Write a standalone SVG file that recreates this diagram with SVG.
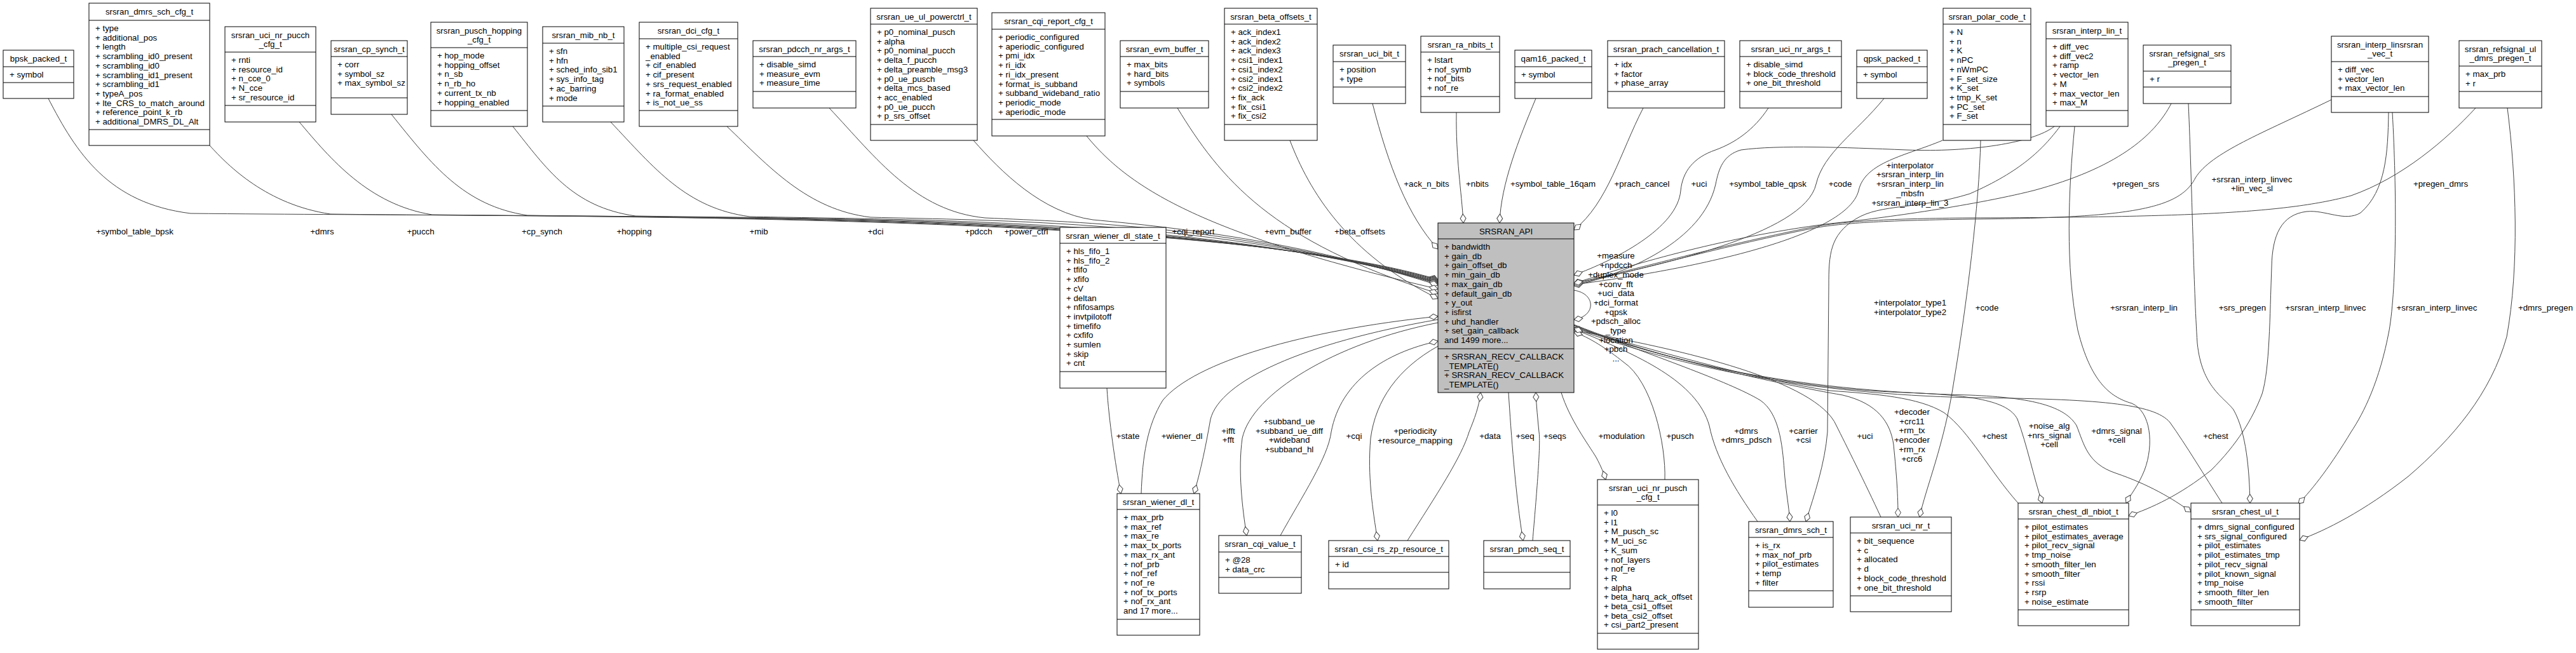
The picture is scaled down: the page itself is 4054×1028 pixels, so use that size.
<svg xmlns="http://www.w3.org/2000/svg" width="4054" height="1028" viewBox="0 0 4054 1028">
<style>
.b{fill:#fff;stroke:#000;stroke-width:1}
.api{fill:#bfbfbf}
.d{stroke:#000;stroke-width:1}
text{font-family:"Liberation Sans",Arial,Helvetica,sans-serif;font-size:13.3px;fill:#000}
.c{text-anchor:middle}
.e{fill:none;stroke:#404040;stroke-width:1;marker-end:url(#dia)}
</style>
<defs>
<marker id="dia" viewBox="-15 -6 16 12" refX="0" refY="0" markerWidth="16" markerHeight="12" markerUnits="userSpaceOnUse" orient="auto">
<path d="M0,0 L-7,-4.5 L-14,0 L-7,4.5 Z" fill="#fff" stroke="#404040" stroke-width="1"/>
</marker>
</defs>
<rect width="4054" height="1028" fill="#fff"/>
<g id="connectors">
<path class="e" d="M76,155 C120,240 170,320 300,336 C900,342 1900,332 2263,440"/>
<path class="e" d="M330,229 C360,262 420,322 520,337 C1000,343 1900,334 2263,441"/>
<path class="e" d="M471,192 C520,250 580,322 680,338 C1100,343 1900,336 2263,442"/>
<path class="e" d="M616,180 C680,260 730,324 830,339 C1200,344 1900,338 2263,443"/>
<path class="e" d="M807,199 C860,265 900,326 1000,340 C1300,345 1900,340 2263,444"/>
<path class="e" d="M961,192 C1030,265 1080,328 1180,341 C1400,346 1900,342 2263,445"/>
<path class="e" d="M1144,199 C1210,262 1270,330 1370,342 C1550,347 1920,346 2263,446"/>
<path class="e" d="M1305,170 C1380,250 1440,332 1550,343 C1700,350 1950,355 2263,447"/>
<path class="e" d="M1532,221 C1575,270 1640,335 1720,346 C1850,358 2050,380 2263,449"/>
<path class="e" d="M1710,214 C1780,300 1900,370 2263,455"/>
<path class="e" d="M1853,170 C1920,280 2000,380 2263,462"/>
<path class="e" d="M2030,221 C2060,300 2120,400 2263,470"/>
<path class="e" d="M2160,163 C2185,260 2215,340 2263,392"/>
<path class="e" d="M2292,177 C2291,250 2300,300 2303,351"/>
<path class="e" d="M2417,155 C2390,220 2362,290 2360,351"/>
<path class="e" d="M2586,170 C2550,240 2530,320 2477,362"/>
<path class="e" d="M2783,170 C2760,205 2730,225 2700,236 C2665,248 2648,270 2645,300 C2640,360 2540,410 2477,433"/>
<path class="e" d="M2965,155 C2920,210 2870,240 2858,290 C2840,370 2600,420 2477,446"/>
<path class="e" d="M3057,221 C3000,245 2935,255 2925,300 C2905,380 2620,430 2477,448"/>
<path class="e" d="M3233,199 C3200,225 3100,240 3000,236 C2900,232 2800,228 2740,236 C2712,244 2705,265 2700,290 C2680,380 2560,430 2477,450"/>
<path class="e" d="M3417,163 C3390,215 3330,265 3200,300 C3100,325 2950,345 2880,352 C2700,375 2560,420 2477,446"/>
<path class="e" d="M3669,157 C3560,210 3480,240 3455,280 C3430,330 3350,343 3100,345 C2980,347 2900,350 2850,360 C2700,390 2560,430 2477,448"/>
<path class="e" d="M3896,170 C3850,220 3780,280 3700,308 C3600,335 3450,342 3100,343 C2980,344 2900,348 2850,358 C2700,388 2560,428 2477,446"/>
<path class="e" d="M2477,457 C2512,462 2512,498 2477,503"/>
<path class="e" d="M2477,515 C2600,560 2800,605 2900,622 C2955,635 2975,665 2980,700 C2985,750 2987,780 2987,814"/>
<path class="e" d="M2477,512 C2600,560 2720,600 2770,630 C2800,650 2805,700 2808,740 C2810,770 2815,795 2817,821"/>
<path class="e" d="M2766,821 C2730,770 2700,720 2690,670 C2670,600 2580,560 2477,518"/>
<path class="e" d="M2960,814 C2935,760 2905,700 2890,670 C2860,600 2650,550 2477,520"/>
<path class="e" d="M2620,755 C2622,700 2600,600 2555,570 C2530,550 2500,530 2477,523"/>
<path class="e" d="M3176,792 C3130,740 3100,680 3060,650 C3020,625 2950,620 2880,615 C2750,595 2600,550 2477,516"/>
<path class="e" d="M2477,513 C2600,560 2800,612 3000,618 C3100,622 3160,630 3175,660 C3190,700 3200,750 3214,792"/>
<path class="e" d="M2477,511 C2650,580 2850,616 3100,622 C3200,626 3250,640 3268,670 C3280,700 3285,730 3330,745 C3380,762 3420,785 3448,806"/>
<path class="e" d="M3497,792 C3470,750 3440,700 3415,665 C3390,635 3300,628 3100,626 C2850,620 2650,580 2477,517"/>
<path class="e" d="M3242,199 C3215,235 3180,270 3100,305 C3020,330 2960,320 2920,345 C2880,370 2878,400 2878,450 L2876,680 C2872,730 2855,780 2842,821"/>
<path class="e" d="M3117,221 C3115,320 3095,480 3075,600 C3060,700 3030,770 3021,814"/>
<path class="e" d="M3265,199 C3255,300 3250,420 3270,520 C3290,600 3320,625 3355,635 C3385,648 3390,700 3375,740 C3365,765 3352,780 3346,792"/>
<path class="e" d="M3444,163 C3450,300 3452,450 3458,540 C3465,610 3500,625 3515,645 C3535,680 3540,740 3541,792"/>
<path class="e" d="M3759,177 C3758,240 3755,300 3715,335 C3690,350 3660,330 3630,333 C3590,338 3576,370 3575,420 C3572,500 3572,580 3560,620 C3545,660 3520,700 3480,740 C3430,780 3385,800 3350,812"/>
<path class="e" d="M3765,177 C3772,300 3772,450 3760,520 C3745,600 3720,650 3700,680 C3670,730 3640,770 3617,793"/>
<path class="e" d="M3946,170 C3960,280 3965,420 3945,530 C3920,620 3860,690 3790,750 C3720,805 3660,835 3619,850"/>
<path class="e" d="M1742,611 C1745,660 1755,730 1764,777"/>
<path class="e" d="M1796,777 C1798,720 1805,670 1830,630 C1880,570 2050,520 2263,498"/>
<path class="e" d="M2263,503 C2050,540 1920,600 1905,660 C1898,700 1890,740 1879,777"/>
<path class="e" d="M2263,508 C2100,540 1970,620 1955,690 C1948,740 1955,800 1962,843"/>
<path class="e" d="M2015,843 C2050,780 2090,720 2095,680 C2110,600 2180,555 2263,537"/>
<path class="e" d="M2263,545 C2200,580 2165,630 2157,690 C2152,750 2160,800 2168,851"/>
<path class="e" d="M2215,851 C2260,780 2300,720 2312,680 C2320,660 2328,640 2330,618"/>
<path class="e" d="M2374,618 C2378,680 2385,780 2397,851"/>
<path class="e" d="M2412,851 C2418,780 2425,700 2422,680 C2420,660 2418,640 2417,618"/>
<path class="e" d="M2457,618 C2470,660 2500,700 2512,720 C2520,735 2524,745 2527,755"/>
<g class="c">
<text x="212" y="369">+symbol_table_bpsk</text>
<text x="507" y="369">+dmrs</text>
<text x="662" y="369">+pucch</text>
<text x="853" y="369">+cp_synch</text>
<text x="998" y="369">+hopping</text>
<text x="1194" y="369">+mib</text>
<text x="1378" y="369">+dci</text>
<text x="1540" y="369">+pdcch</text>
<text x="1615" y="369">+power_ctrl</text>
<text x="1878" y="369">+cqi_report</text>
<text x="2027" y="369">+evm_buffer</text>
<text x="2140" y="369">+beta_offsets</text>
<text x="2245" y="294">+ack_n_bits</text>
<text x="2325" y="294">+nbits</text>
<text x="2444" y="294">+symbol_table_16qam</text>
<text x="2584" y="294">+prach_cancel</text>
<text x="2674" y="294">+uci</text>
<text x="2782" y="294">+symbol_table_qpsk</text>
<text x="2896" y="294">+code</text>
<text x="3361" y="294">+pregen_srs</text>
<text x="3841" y="294">+pregen_dmrs</text>
<text x="3006" y="264.7">+interpolator</text>
<text x="3006" y="279.4">+srsran_interp_lin</text>
<text x="3006" y="294.1">+srsran_interp_lin</text>
<text x="3006" y="308.8">_mbsfn</text>
<text x="3006" y="323.5">+srsran_interp_lin_3</text>
<text x="3544" y="286.7">+srsran_interp_linvec</text>
<text x="3544" y="301.4">+lin_vec_sl</text>
<text x="2543" y="407.4">+measure</text>
<text x="2543" y="422.1">+npdcch</text>
<text x="2543" y="436.8">+duplex_mode</text>
<text x="2543" y="451.5">+conv_fft</text>
<text x="2543" y="466.2">+uci_data</text>
<text x="2543" y="480.9">+dci_format</text>
<text x="2543" y="495.6">+qpsk</text>
<text x="2543" y="510.3">+pdsch_alloc</text>
<text x="2543" y="525">_type</text>
<text x="2543" y="539.7">+location</text>
<text x="2543" y="554.4">+pbch</text>
<text x="2543" y="569.1">...</text>
<text x="3006" y="481.4">+interpolator_type1</text>
<text x="3006" y="496.1">+interpolator_type2</text>
<text x="3127" y="488.7">+code</text>
<text x="3374" y="488.7">+srsran_interp_lin</text>
<text x="3529" y="488.7">+srs_pregen</text>
<text x="3660" y="488.7">+srsran_interp_linvec</text>
<text x="3835" y="488.7">+srsran_interp_linvec</text>
<text x="4006" y="488.7">+dmrs_pregen</text>
<text x="1775" y="690.7">+state</text>
<text x="1860" y="690.7">+wiener_dl</text>
<text x="1933" y="682.7">+ifft</text>
<text x="1933" y="697.4">+fft</text>
<text x="2029" y="668">+subband_ue</text>
<text x="2029" y="682.7">+subband_ue_diff</text>
<text x="2029" y="697.4">+wideband</text>
<text x="2029" y="712.1">+subband_hl</text>
<text x="2131" y="690.7">+cqi</text>
<text x="2227" y="683.4">+periodicity</text>
<text x="2227" y="698.1">+resource_mapping</text>
<text x="2345" y="690.7">+data</text>
<text x="2400" y="690.7">+seq</text>
<text x="2447" y="690.7">+seqs</text>
<text x="2552" y="690.7">+modulation</text>
<text x="2644" y="690.7">+pusch</text>
<text x="2748" y="682.7">+dmrs</text>
<text x="2748" y="697.4">+dmrs_pdsch</text>
<text x="2838" y="682.7">+carrier</text>
<text x="2838" y="697.4">+csi</text>
<text x="2935" y="690.7">+uci</text>
<text x="3009" y="653">+decoder</text>
<text x="3009" y="667.7">+crc11</text>
<text x="3009" y="682.4">+rm_tx</text>
<text x="3009" y="697.1">+encoder</text>
<text x="3009" y="711.8">+rm_rx</text>
<text x="3009" y="726.5">+crc6</text>
<text x="3139" y="690.7">+chest</text>
<text x="3225" y="675">+noise_alg</text>
<text x="3225" y="689.7">+nrs_signal</text>
<text x="3225" y="704.4">+cell</text>
<text x="3331" y="682.7">+dmrs_signal</text>
<text x="3331" y="697.4">+cell</text>
<text x="3487" y="690.7">+chest</text>
</g>
</g>
<g id="bpsk_packed_t"><rect class="b" x="5" y="79" width="111" height="76"/><line class="d" x1="5" y1="105" x2="116" y2="105"/><line class="d" x1="5" y1="130" x2="116" y2="130"/><text class="c" x="60.5" y="96.7">bpsk_packed_t</text><text x="15" y="122">+ symbol</text></g>
<g id="srsran_dmrs_sch_cfg_t"><rect class="b" x="140" y="5" width="190" height="224"/><line class="d" x1="140" y1="32" x2="330" y2="32"/><line class="d" x1="140" y1="204" x2="330" y2="204"/><text class="c" x="235" y="22.7">srsran_dmrs_sch_cfg_t</text><text x="150" y="49"><tspan x="150">+ type</tspan><tspan x="150" dy="14.7">+ additional_pos</tspan><tspan x="150" dy="14.7">+ length</tspan><tspan x="150" dy="14.7">+ scrambling_id0_present</tspan><tspan x="150" dy="14.7">+ scrambling_id0</tspan><tspan x="150" dy="14.7">+ scrambling_id1_present</tspan><tspan x="150" dy="14.7">+ scrambling_id1</tspan><tspan x="150" dy="14.7">+ typeA_pos</tspan><tspan x="150" dy="14.7">+ lte_CRS_to_match_around</tspan><tspan x="150" dy="14.7">+ reference_point_k_rb</tspan><tspan x="150" dy="14.7">+ additional_DMRS_DL_Alt</tspan></text></g>
<g id="srsran_uci_nr_pucch_cfg_t"><rect class="b" x="354" y="42" width="143" height="150"/><line class="d" x1="354" y1="82" x2="497" y2="82"/><line class="d" x1="354" y1="166" x2="497" y2="166"/><text class="c" x="425.5" y="59.7">srsran_uci_nr_pucch</text><text class="c" x="425.5" y="74.4">_cfg_t</text><text x="364" y="99"><tspan x="364">+ rnti</tspan><tspan x="364" dy="14.7">+ resource_id</tspan><tspan x="364" dy="14.7">+ n_cce_0</tspan><tspan x="364" dy="14.7">+ N_cce</tspan><tspan x="364" dy="14.7">+ sr_resource_id</tspan></text></g>
<g id="srsran_cp_synch_t"><rect class="b" x="521" y="64" width="120" height="116"/><line class="d" x1="521" y1="89" x2="641" y2="89"/><line class="d" x1="521" y1="154" x2="641" y2="154"/><text class="c" x="581" y="81.7">srsran_cp_synch_t</text><text x="531" y="106"><tspan x="531">+ corr</tspan><tspan x="531" dy="14.7">+ symbol_sz</tspan><tspan x="531" dy="14.7">+ max_symbol_sz</tspan></text></g>
<g id="srsran_pusch_hopping_cfg_t"><rect class="b" x="678" y="35" width="152" height="164"/><line class="d" x1="678" y1="75" x2="830" y2="75"/><line class="d" x1="678" y1="174" x2="830" y2="174"/><text class="c" x="754" y="52.7">srsran_pusch_hopping</text><text class="c" x="754" y="67.4">_cfg_t</text><text x="688" y="92"><tspan x="688">+ hop_mode</tspan><tspan x="688" dy="14.7">+ hopping_offset</tspan><tspan x="688" dy="14.7">+ n_sb</tspan><tspan x="688" dy="14.7">+ n_rb_ho</tspan><tspan x="688" dy="14.7">+ current_tx_nb</tspan><tspan x="688" dy="14.7">+ hopping_enabled</tspan></text></g>
<g id="srsran_mib_nb_t"><rect class="b" x="854" y="42" width="128" height="150"/><line class="d" x1="854" y1="68" x2="982" y2="68"/><line class="d" x1="854" y1="167" x2="982" y2="167"/><text class="c" x="918" y="59.7">srsran_mib_nb_t</text><text x="864" y="85"><tspan x="864">+ sfn</tspan><tspan x="864" dy="14.7">+ hfn</tspan><tspan x="864" dy="14.7">+ sched_info_sib1</tspan><tspan x="864" dy="14.7">+ sys_info_tag</tspan><tspan x="864" dy="14.7">+ ac_barring</tspan><tspan x="864" dy="14.7">+ mode</tspan></text></g>
<g id="srsran_dci_cfg_t"><rect class="b" x="1006" y="35" width="155" height="164"/><line class="d" x1="1006" y1="61" x2="1161" y2="61"/><line class="d" x1="1006" y1="174" x2="1161" y2="174"/><text class="c" x="1083.5" y="52.7">srsran_dci_cfg_t</text><text x="1016" y="78"><tspan x="1016">+ multiple_csi_request</tspan><tspan x="1016" dy="14.7">_enabled</tspan><tspan x="1016" dy="14.7">+ cif_enabled</tspan><tspan x="1016" dy="14.7">+ cif_present</tspan><tspan x="1016" dy="14.7">+ srs_request_enabled</tspan><tspan x="1016" dy="14.7">+ ra_format_enabled</tspan><tspan x="1016" dy="14.7">+ is_not_ue_ss</tspan></text></g>
<g id="srsran_pdcch_nr_args_t"><rect class="b" x="1185" y="64" width="162" height="106"/><line class="d" x1="1185" y1="89" x2="1347" y2="89"/><line class="d" x1="1185" y1="144" x2="1347" y2="144"/><text class="c" x="1266" y="81.7">srsran_pdcch_nr_args_t</text><text x="1195" y="106"><tspan x="1195">+ disable_simd</tspan><tspan x="1195" dy="14.7">+ measure_evm</tspan><tspan x="1195" dy="14.7">+ measure_time</tspan></text></g>
<g id="srsran_ue_ul_powerctrl_t"><rect class="b" x="1370" y="13" width="168" height="208"/><line class="d" x1="1370" y1="38" x2="1538" y2="38"/><line class="d" x1="1370" y1="196" x2="1538" y2="196"/><text class="c" x="1454" y="30.7">srsran_ue_ul_powerctrl_t</text><text x="1380" y="55"><tspan x="1380">+ p0_nominal_pusch</tspan><tspan x="1380" dy="14.7">+ alpha</tspan><tspan x="1380" dy="14.7">+ p0_nominal_pucch</tspan><tspan x="1380" dy="14.7">+ delta_f_pucch</tspan><tspan x="1380" dy="14.7">+ delta_preamble_msg3</tspan><tspan x="1380" dy="14.7">+ p0_ue_pusch</tspan><tspan x="1380" dy="14.7">+ delta_mcs_based</tspan><tspan x="1380" dy="14.7">+ acc_enabled</tspan><tspan x="1380" dy="14.7">+ p0_ue_pucch</tspan><tspan x="1380" dy="14.7">+ p_srs_offset</tspan></text></g>
<g id="srsran_cqi_report_cfg_t"><rect class="b" x="1561" y="20" width="178" height="194"/><line class="d" x1="1561" y1="46" x2="1739" y2="46"/><line class="d" x1="1561" y1="188" x2="1739" y2="188"/><text class="c" x="1650" y="37.7">srsran_cqi_report_cfg_t</text><text x="1571" y="63"><tspan x="1571">+ periodic_configured</tspan><tspan x="1571" dy="14.7">+ aperiodic_configured</tspan><tspan x="1571" dy="14.7">+ pmi_idx</tspan><tspan x="1571" dy="14.7">+ ri_idx</tspan><tspan x="1571" dy="14.7">+ ri_idx_present</tspan><tspan x="1571" dy="14.7">+ format_is_subband</tspan><tspan x="1571" dy="14.7">+ subband_wideband_ratio</tspan><tspan x="1571" dy="14.7">+ periodic_mode</tspan><tspan x="1571" dy="14.7">+ aperiodic_mode</tspan></text></g>
<g id="srsran_evm_buffer_t"><rect class="b" x="1763" y="64" width="139" height="106"/><line class="d" x1="1763" y1="89" x2="1902" y2="89"/><line class="d" x1="1763" y1="144" x2="1902" y2="144"/><text class="c" x="1832.5" y="81.7">srsran_evm_buffer_t</text><text x="1773" y="106"><tspan x="1773">+ max_bits</tspan><tspan x="1773" dy="14.7">+ hard_bits</tspan><tspan x="1773" dy="14.7">+ symbols</tspan></text></g>
<g id="srsran_beta_offsets_t"><rect class="b" x="1927" y="13" width="146" height="208"/><line class="d" x1="1927" y1="38" x2="2073" y2="38"/><line class="d" x1="1927" y1="196" x2="2073" y2="196"/><text class="c" x="2000" y="30.7">srsran_beta_offsets_t</text><text x="1937" y="55"><tspan x="1937">+ ack_index1</tspan><tspan x="1937" dy="14.7">+ ack_index2</tspan><tspan x="1937" dy="14.7">+ ack_index3</tspan><tspan x="1937" dy="14.7">+ csi1_index1</tspan><tspan x="1937" dy="14.7">+ csi1_index2</tspan><tspan x="1937" dy="14.7">+ csi2_index1</tspan><tspan x="1937" dy="14.7">+ csi2_index2</tspan><tspan x="1937" dy="14.7">+ fix_ack</tspan><tspan x="1937" dy="14.7">+ fix_csi1</tspan><tspan x="1937" dy="14.7">+ fix_csi2</tspan></text></g>
<g id="srsran_uci_bit_t"><rect class="b" x="2098" y="71" width="114" height="92"/><line class="d" x1="2098" y1="97" x2="2212" y2="97"/><line class="d" x1="2098" y1="137" x2="2212" y2="137"/><text class="c" x="2155" y="88.7">srsran_uci_bit_t</text><text x="2108" y="114"><tspan x="2108">+ position</tspan><tspan x="2108" dy="14.7">+ type</tspan></text></g>
<g id="srsran_ra_nbits_t"><rect class="b" x="2236" y="57" width="124" height="120"/><line class="d" x1="2236" y1="82" x2="2360" y2="82"/><line class="d" x1="2236" y1="152" x2="2360" y2="152"/><text class="c" x="2298" y="74.7">srsran_ra_nbits_t</text><text x="2246" y="99"><tspan x="2246">+ lstart</tspan><tspan x="2246" dy="14.7">+ nof_symb</tspan><tspan x="2246" dy="14.7">+ nof_bits</tspan><tspan x="2246" dy="14.7">+ nof_re</tspan></text></g>
<g id="qam16_packed_t"><rect class="b" x="2384" y="79" width="121" height="76"/><line class="d" x1="2384" y1="105" x2="2505" y2="105"/><line class="d" x1="2384" y1="130" x2="2505" y2="130"/><text class="c" x="2444.5" y="96.7">qam16_packed_t</text><text x="2394" y="122">+ symbol</text></g>
<g id="srsran_prach_cancellation_t"><rect class="b" x="2530" y="64" width="184" height="106"/><line class="d" x1="2530" y1="89" x2="2714" y2="89"/><line class="d" x1="2530" y1="144" x2="2714" y2="144"/><text class="c" x="2622" y="81.7">srsran_prach_cancellation_t</text><text x="2540" y="106"><tspan x="2540">+ idx</tspan><tspan x="2540" dy="14.7">+ factor</tspan><tspan x="2540" dy="14.7">+ phase_array</tspan></text></g>
<g id="srsran_uci_nr_args_t"><rect class="b" x="2738" y="64" width="160" height="106"/><line class="d" x1="2738" y1="89" x2="2898" y2="89"/><line class="d" x1="2738" y1="144" x2="2898" y2="144"/><text class="c" x="2818" y="81.7">srsran_uci_nr_args_t</text><text x="2748" y="106"><tspan x="2748">+ disable_simd</tspan><tspan x="2748" dy="14.7">+ block_code_threshold</tspan><tspan x="2748" dy="14.7">+ one_bit_threshold</tspan></text></g>
<g id="qpsk_packed_t"><rect class="b" x="2922" y="79" width="111" height="76"/><line class="d" x1="2922" y1="105" x2="3033" y2="105"/><line class="d" x1="2922" y1="130" x2="3033" y2="130"/><text class="c" x="2977.5" y="96.7">qpsk_packed_t</text><text x="2932" y="122">+ symbol</text></g>
<g id="srsran_polar_code_t"><rect class="b" x="3058" y="13" width="138" height="208"/><line class="d" x1="3058" y1="38" x2="3196" y2="38"/><line class="d" x1="3058" y1="196" x2="3196" y2="196"/><text class="c" x="3127" y="30.7">srsran_polar_code_t</text><text x="3068" y="55"><tspan x="3068">+ N</tspan><tspan x="3068" dy="14.7">+ n</tspan><tspan x="3068" dy="14.7">+ K</tspan><tspan x="3068" dy="14.7">+ nPC</tspan><tspan x="3068" dy="14.7">+ nWmPC</tspan><tspan x="3068" dy="14.7">+ F_set_size</tspan><tspan x="3068" dy="14.7">+ K_set</tspan><tspan x="3068" dy="14.7">+ tmp_K_set</tspan><tspan x="3068" dy="14.7">+ PC_set</tspan><tspan x="3068" dy="14.7">+ F_set</tspan></text></g>
<g id="srsran_interp_lin_t"><rect class="b" x="3220" y="35" width="129" height="164"/><line class="d" x1="3220" y1="61" x2="3349" y2="61"/><line class="d" x1="3220" y1="174" x2="3349" y2="174"/><text class="c" x="3284.5" y="52.7">srsran_interp_lin_t</text><text x="3230" y="78"><tspan x="3230">+ diff_vec</tspan><tspan x="3230" dy="14.7">+ diff_vec2</tspan><tspan x="3230" dy="14.7">+ ramp</tspan><tspan x="3230" dy="14.7">+ vector_len</tspan><tspan x="3230" dy="14.7">+ M</tspan><tspan x="3230" dy="14.7">+ max_vector_len</tspan><tspan x="3230" dy="14.7">+ max_M</tspan></text></g>
<g id="srsran_refsignal_srs_pregen_t"><rect class="b" x="3373" y="71" width="138" height="92"/><line class="d" x1="3373" y1="112" x2="3511" y2="112"/><line class="d" x1="3373" y1="137" x2="3511" y2="137"/><text class="c" x="3442" y="88.7">srsran_refsignal_srs</text><text class="c" x="3442" y="103.4">_pregen_t</text><text x="3383" y="129">+ r</text></g>
<g id="srsran_interp_linsrsran_vec_t"><rect class="b" x="3669" y="57" width="153" height="120"/><line class="d" x1="3669" y1="97" x2="3822" y2="97"/><line class="d" x1="3669" y1="152" x2="3822" y2="152"/><text class="c" x="3745.5" y="74.7">srsran_interp_linsrsran</text><text class="c" x="3745.5" y="89.4">_vec_t</text><text x="3679" y="114"><tspan x="3679">+ diff_vec</tspan><tspan x="3679" dy="14.7">+ vector_len</tspan><tspan x="3679" dy="14.7">+ max_vector_len</tspan></text></g>
<g id="srsran_refsignal_ul_dmrs_pregen_t"><rect class="b" x="3870" y="64" width="130" height="106"/><line class="d" x1="3870" y1="104" x2="4000" y2="104"/><line class="d" x1="3870" y1="144" x2="4000" y2="144"/><text class="c" x="3935" y="81.7">srsran_refsignal_ul</text><text class="c" x="3935" y="96.4">_dmrs_pregen_t</text><text x="3880" y="121"><tspan x="3880">+ max_prb</tspan><tspan x="3880" dy="14.7">+ r</tspan></text></g>
<g id="SRSRAN_API"><rect class="b api" x="2263" y="351" width="214" height="267"/><line class="d" x1="2263" y1="376" x2="2477" y2="376"/><line class="d" x1="2263" y1="549" x2="2477" y2="549"/><text class="c" x="2370" y="368.7">SRSRAN_API</text><text x="2273" y="393"><tspan x="2273">+ bandwidth</tspan><tspan x="2273" dy="14.7">+ gain_db</tspan><tspan x="2273" dy="14.7">+ gain_offset_db</tspan><tspan x="2273" dy="14.7">+ min_gain_db</tspan><tspan x="2273" dy="14.7">+ max_gain_db</tspan><tspan x="2273" dy="14.7">+ default_gain_db</tspan><tspan x="2273" dy="14.7">+ y_out</tspan><tspan x="2273" dy="14.7">+ isfirst</tspan><tspan x="2273" dy="14.7">+ uhd_handler</tspan><tspan x="2273" dy="14.7">+ set_gain_callback</tspan><tspan x="2273" dy="14.7">and 1499 more...</tspan></text><text x="2273" y="566"><tspan x="2273">+ SRSRAN_RECV_CALLBACK</tspan><tspan x="2273" dy="14.7">_TEMPLATE()</tspan><tspan x="2273" dy="14.7">+ SRSRAN_RECV_CALLBACK</tspan><tspan x="2273" dy="14.7">_TEMPLATE()</tspan></text></g>
<g id="srsran_wiener_dl_state_t"><rect class="b" x="1668" y="358" width="167" height="253"/><line class="d" x1="1668" y1="383" x2="1835" y2="383"/><line class="d" x1="1668" y1="585" x2="1835" y2="585"/><text class="c" x="1751.5" y="375.7">srsran_wiener_dl_state_t</text><text x="1678" y="400"><tspan x="1678">+ hls_fifo_1</tspan><tspan x="1678" dy="14.7">+ hls_fifo_2</tspan><tspan x="1678" dy="14.7">+ tfifo</tspan><tspan x="1678" dy="14.7">+ xfifo</tspan><tspan x="1678" dy="14.7">+ cV</tspan><tspan x="1678" dy="14.7">+ deltan</tspan><tspan x="1678" dy="14.7">+ nfifosamps</tspan><tspan x="1678" dy="14.7">+ invtpilotoff</tspan><tspan x="1678" dy="14.7">+ timefifo</tspan><tspan x="1678" dy="14.7">+ cxfifo</tspan><tspan x="1678" dy="14.7">+ sumlen</tspan><tspan x="1678" dy="14.7">+ skip</tspan><tspan x="1678" dy="14.7">+ cnt</tspan></text></g>
<g id="srsran_wiener_dl_t"><rect class="b" x="1758" y="777" width="130" height="223"/><line class="d" x1="1758" y1="802" x2="1888" y2="802"/><line class="d" x1="1758" y1="975" x2="1888" y2="975"/><text class="c" x="1823" y="794.7">srsran_wiener_dl_t</text><text x="1768" y="819"><tspan x="1768">+ max_prb</tspan><tspan x="1768" dy="14.7">+ max_ref</tspan><tspan x="1768" dy="14.7">+ max_re</tspan><tspan x="1768" dy="14.7">+ max_tx_ports</tspan><tspan x="1768" dy="14.7">+ max_rx_ant</tspan><tspan x="1768" dy="14.7">+ nof_prb</tspan><tspan x="1768" dy="14.7">+ nof_ref</tspan><tspan x="1768" dy="14.7">+ nof_re</tspan><tspan x="1768" dy="14.7">+ nof_tx_ports</tspan><tspan x="1768" dy="14.7">+ nof_rx_ant</tspan><tspan x="1768" dy="14.7">and 17 more...</tspan></text></g>
<g id="srsran_cqi_value_t"><rect class="b" x="1918" y="843" width="130" height="91"/><line class="d" x1="1918" y1="869" x2="2048" y2="869"/><line class="d" x1="1918" y1="909" x2="2048" y2="909"/><text class="c" x="1983" y="860.7">srsran_cqi_value_t</text><text x="1928" y="886"><tspan x="1928">+ @28</tspan><tspan x="1928" dy="14.7">+ data_crc</tspan></text></g>
<g id="srsran_csi_rs_zp_resource_t"><rect class="b" x="2091" y="851" width="189" height="76"/><line class="d" x1="2091" y1="876" x2="2280" y2="876"/><line class="d" x1="2091" y1="901" x2="2280" y2="901"/><text class="c" x="2185.5" y="868.7">srsran_csi_rs_zp_resource_t</text><text x="2101" y="893">+ id</text></g>
<g id="srsran_pmch_seq_t"><rect class="b" x="2335" y="851" width="136" height="76"/><line class="d" x1="2335" y1="876" x2="2471" y2="876"/><line class="d" x1="2335" y1="901" x2="2471" y2="901"/><text class="c" x="2403" y="868.7">srsran_pmch_seq_t</text></g>
<g id="srsran_uci_nr_pusch_cfg_t"><rect class="b" x="2514" y="755" width="159" height="267"/><line class="d" x1="2514" y1="795" x2="2673" y2="795"/><line class="d" x1="2514" y1="997" x2="2673" y2="997"/><text class="c" x="2593.5" y="772.7">srsran_uci_nr_pusch</text><text class="c" x="2593.5" y="787.4">_cfg_t</text><text x="2524" y="812"><tspan x="2524">+ l0</tspan><tspan x="2524" dy="14.7">+ l1</tspan><tspan x="2524" dy="14.7">+ M_pusch_sc</tspan><tspan x="2524" dy="14.7">+ M_uci_sc</tspan><tspan x="2524" dy="14.7">+ K_sum</tspan><tspan x="2524" dy="14.7">+ nof_layers</tspan><tspan x="2524" dy="14.7">+ nof_re</tspan><tspan x="2524" dy="14.7">+ R</tspan><tspan x="2524" dy="14.7">+ alpha</tspan><tspan x="2524" dy="14.7">+ beta_harq_ack_offset</tspan><tspan x="2524" dy="14.7">+ beta_csi1_offset</tspan><tspan x="2524" dy="14.7">+ beta_csi2_offset</tspan><tspan x="2524" dy="14.7">+ csi_part2_present</tspan></text></g>
<g id="srsran_dmrs_sch_t"><rect class="b" x="2752" y="821" width="133" height="135"/><line class="d" x1="2752" y1="846" x2="2885" y2="846"/><line class="d" x1="2752" y1="930" x2="2885" y2="930"/><text class="c" x="2818.5" y="838.7">srsran_dmrs_sch_t</text><text x="2762" y="863"><tspan x="2762">+ is_rx</tspan><tspan x="2762" dy="14.7">+ max_nof_prb</tspan><tspan x="2762" dy="14.7">+ pilot_estimates</tspan><tspan x="2762" dy="14.7">+ temp</tspan><tspan x="2762" dy="14.7">+ filter</tspan></text></g>
<g id="srsran_uci_nr_t"><rect class="b" x="2912" y="814" width="159" height="149"/><line class="d" x1="2912" y1="839" x2="3071" y2="839"/><line class="d" x1="2912" y1="938" x2="3071" y2="938"/><text class="c" x="2991.5" y="831.7">srsran_uci_nr_t</text><text x="2922" y="856"><tspan x="2922">+ bit_sequence</tspan><tspan x="2922" dy="14.7">+ c</tspan><tspan x="2922" dy="14.7">+ allocated</tspan><tspan x="2922" dy="14.7">+ d</tspan><tspan x="2922" dy="14.7">+ block_code_threshold</tspan><tspan x="2922" dy="14.7">+ one_bit_threshold</tspan></text></g>
<g id="srsran_chest_dl_nbiot_t"><rect class="b" x="3176" y="792" width="174" height="193"/><line class="d" x1="3176" y1="817" x2="3350" y2="817"/><line class="d" x1="3176" y1="960" x2="3350" y2="960"/><text class="c" x="3263" y="809.7">srsran_chest_dl_nbiot_t</text><text x="3186" y="834"><tspan x="3186">+ pilot_estimates</tspan><tspan x="3186" dy="14.7">+ pilot_estimates_average</tspan><tspan x="3186" dy="14.7">+ pilot_recv_signal</tspan><tspan x="3186" dy="14.7">+ tmp_noise</tspan><tspan x="3186" dy="14.7">+ smooth_filter_len</tspan><tspan x="3186" dy="14.7">+ smooth_filter</tspan><tspan x="3186" dy="14.7">+ rssi</tspan><tspan x="3186" dy="14.7">+ rsrp</tspan><tspan x="3186" dy="14.7">+ noise_estimate</tspan></text></g>
<g id="srsran_chest_ul_t"><rect class="b" x="3448" y="792" width="171" height="193"/><line class="d" x1="3448" y1="817" x2="3619" y2="817"/><line class="d" x1="3448" y1="960" x2="3619" y2="960"/><text class="c" x="3533.5" y="809.7">srsran_chest_ul_t</text><text x="3458" y="834"><tspan x="3458">+ dmrs_signal_configured</tspan><tspan x="3458" dy="14.7">+ srs_signal_configured</tspan><tspan x="3458" dy="14.7">+ pilot_estimates</tspan><tspan x="3458" dy="14.7">+ pilot_estimates_tmp</tspan><tspan x="3458" dy="14.7">+ pilot_recv_signal</tspan><tspan x="3458" dy="14.7">+ pilot_known_signal</tspan><tspan x="3458" dy="14.7">+ tmp_noise</tspan><tspan x="3458" dy="14.7">+ smooth_filter_len</tspan><tspan x="3458" dy="14.7">+ smooth_filter</tspan></text></g>
</svg>
